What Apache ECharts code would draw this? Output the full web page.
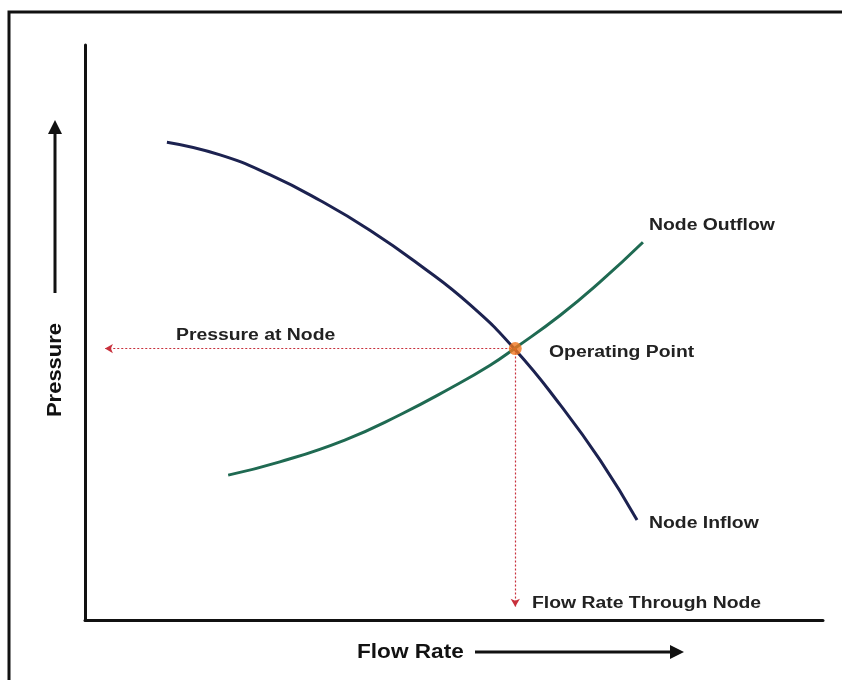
<!DOCTYPE html>
<html><head><meta charset="utf-8">
<script src="https://cdn.jsdelivr.net/npm/echarts@6/dist/echarts.min.js"></script>
<style>html,body{margin:0;padding:0;background:#fff}#c{width:842px;height:680px}</style>
</head><body><div id="c"></div>
<script>
// Flow rate (x) and pressure (y) in arbitrary units 0-100
const inflowX = [11.1, 18.3, 25.1, 31.8, 38.6, 45.4, 52.2, 58.3, 64.4, 69.8, 74.8];
const inflowY = [83.1, 80.9, 77.4, 73.0, 67.8, 61.7, 54.8, 47.0, 37.4, 27.8, 17.4];
const outflowX = [19.4, 26.4, 35.2, 42.7, 49.5, 54.9, 58.3, 64.4, 69.8, 75.6];
const outflowY = [25.2, 27.5, 31.3, 35.7, 40.3, 44.3, 47.3, 53.0, 58.8, 65.7];
const opPoint = [58.3, 47.2];
const pressureArrowEndX = 2.7;
const flowArrowEndY = 2.3;

const chart = echarts.init(document.getElementById('c'));
const zip = (a, b) => a.map((v, i) => [v, b[i]]);
const font = 'Liberation Sans, Arial, sans-serif';
const lab = (text, x, y) => ({type: 'text', x: x, y: y, scaleX: 1.21, style: {text, fill: '#222', font: 'bold 16px ' + font, verticalAlign: 'middle'}});

chart.setOption({
  animation: false,
  grid: {left: 85, top: 45, right: 19, bottom: 60},
  xAxis: {type: 'value', min: 0, max: 100, axisLine: {show: true, lineStyle: {color: '#111', width: 3}},
          axisTick: {show: false}, axisLabel: {show: false}, splitLine: {show: false}},
  yAxis: {type: 'value', min: 0, max: 100, axisLine: {show: true, lineStyle: {color: '#111', width: 3}},
          axisTick: {show: false}, axisLabel: {show: false}, splitLine: {show: false}},
  series: [
    {type: 'line', name: 'Node Inflow', data: zip(inflowX, inflowY), smooth: true, showSymbol: false,
     lineStyle: {color: '#1c2250', width: 3}, z: 3},
    {type: 'line', name: 'Node Outflow', data: zip(outflowX, outflowY), smooth: true, showSymbol: false,
     lineStyle: {color: '#1f6a52', width: 3}, z: 3},
    {type: 'scatter', name: 'Operating Point', data: [opPoint], symbolSize: 13,
     itemStyle: {color: '#f0761e'}, z: 5,
     markLine: {silent: true, symbol: ['none', 'arrow'], symbolSize: [7, 8],
       lineStyle: {color: '#c8303c', type: [2, 2], width: 1.2},
       label: {show: false},
       data: [
         [{coord: opPoint}, {coord: [pressureArrowEndX, opPoint[1]]}],
         [{coord: opPoint}, {coord: [opPoint[0], flowArrowEndY]}]
       ]}}
  ],
  graphic: [
    {type: 'rect', shape: {x: 9, y: 12, width: 900, height: 700}, style: {fill: 'none', stroke: '#111', lineWidth: 3}},
    lab('Pressure at Node', 176, 336),
    lab('Operating Point', 549, 353),
    lab('Node Outflow', 649, 226),
    lab('Node Inflow', 649, 524),
    lab('Flow Rate Through Node', 532, 604),
    {type: 'text', x: 357, y: 652, scaleX: 1.13, style: {text: 'Flow Rate', fill: '#111', font: 'bold 20px ' + font, verticalAlign: 'middle'}},
    {type: 'line', shape: {x1: 475, y1: 652, x2: 672, y2: 652}, style: {stroke: '#111', lineWidth: 3}},
    {type: 'polygon', shape: {points: [[670, 645], [684, 652], [670, 659]]}, style: {fill: '#111'}},
    {type: 'text', x: 55, y: 370, rotation: Math.PI / 2, scaleX: 1.1, style: {text: 'Pressure', fill: '#111', font: 'bold 20px ' + font, align: 'center', verticalAlign: 'middle'}},
    {type: 'line', shape: {x1: 55, y1: 293, x2: 55, y2: 132}, style: {stroke: '#111', lineWidth: 3}},
    {type: 'polygon', shape: {points: [[48, 134], [55, 120], [62, 134]]}, style: {fill: '#111'}}
  ]
});
</script></body></html>
